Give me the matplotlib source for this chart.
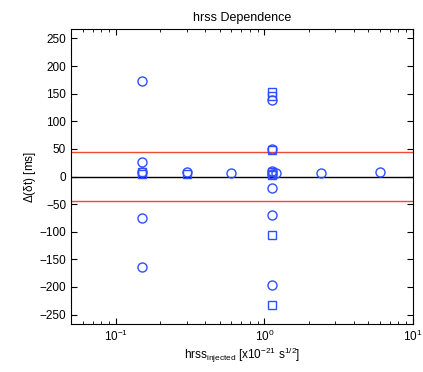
import matplotlib
matplotlib.use("Agg")
import matplotlib.pyplot as plt
from matplotlib.ticker import LogLocator, NullFormatter

plt.rcParams['font.family'] = ['Liberation Sans', 'DejaVu Sans']
plt.rcParams['mathtext.fontset'] = 'custom'
plt.rcParams['mathtext.rm'] = 'Liberation Sans'
plt.rcParams['mathtext.it'] = 'Liberation Sans'
plt.rcParams['font.size'] = 8.5

# timing offsets per injected amplitude
circ_x = [0.15, 0.15, 0.15, 0.15, 0.15,
          0.3, 0.6,
          1.13, 1.13, 1.13, 1.13, 1.13, 1.13, 1.13, 1.2,
          2.4, 6.0]
circ_y = [172, 27, 8, -75, -164,
          8, 7,
          138, 50, 10, 5, -21, -70, -196, 6,
          7, 8]
sq_x = [0.15, 0.15, 0.3,
        1.13, 1.13, 1.13, 1.13, 1.13, 1.13, 1.13]
sq_y = [5, 9, 5,
        153, 146, 48, 8, 2, -105, -232]
window = 45

fig = plt.figure(figsize=(4.23, 3.72), dpi=100)
ax = fig.add_axes([0.168, 0.129, 0.808, 0.793])

ax.axhline(0, color='k', lw=1, zorder=1)
ax.axhline(window, color='#f04a30', lw=1, zorder=1)
ax.axhline(-window, color='#f04a30', lw=1, zorder=1)

ax.plot(circ_x, circ_y, 'o', mfc='none', mec='#2f4fff', ms=6.5, mew=1, zorder=3)
ax.plot(sq_x, sq_y, 's', mfc='none', mec='#2f4fff', ms=5.5, mew=1, zorder=3)

ax.set_xscale('log')
ax.set_xlim(0.05, 10)
ax.set_ylim(-267, 267)
ax.set_yticks(range(-250, 251, 50))
ax.xaxis.set_major_locator(LogLocator(base=10, numticks=10))
ax.xaxis.set_minor_locator(LogLocator(base=10, subs=range(2, 10), numticks=10))
ax.xaxis.set_minor_formatter(NullFormatter())
ax.tick_params(which='both', direction='in', top=True, right=True)
ax.tick_params(which='major', length=4)
ax.tick_params(which='minor', length=2)

ax.set_title('hrss Dependence', fontsize=9)
ax.set_xlabel(r'hrss$_{\mathrm{injected}}$ [x10$^{-21}$ s$^{1/2}$]', labelpad=1)
ax.set_ylabel(r'$\Delta$($\delta$t) [ms]', labelpad=1)

fig.savefig('out.png', dpi=100)
